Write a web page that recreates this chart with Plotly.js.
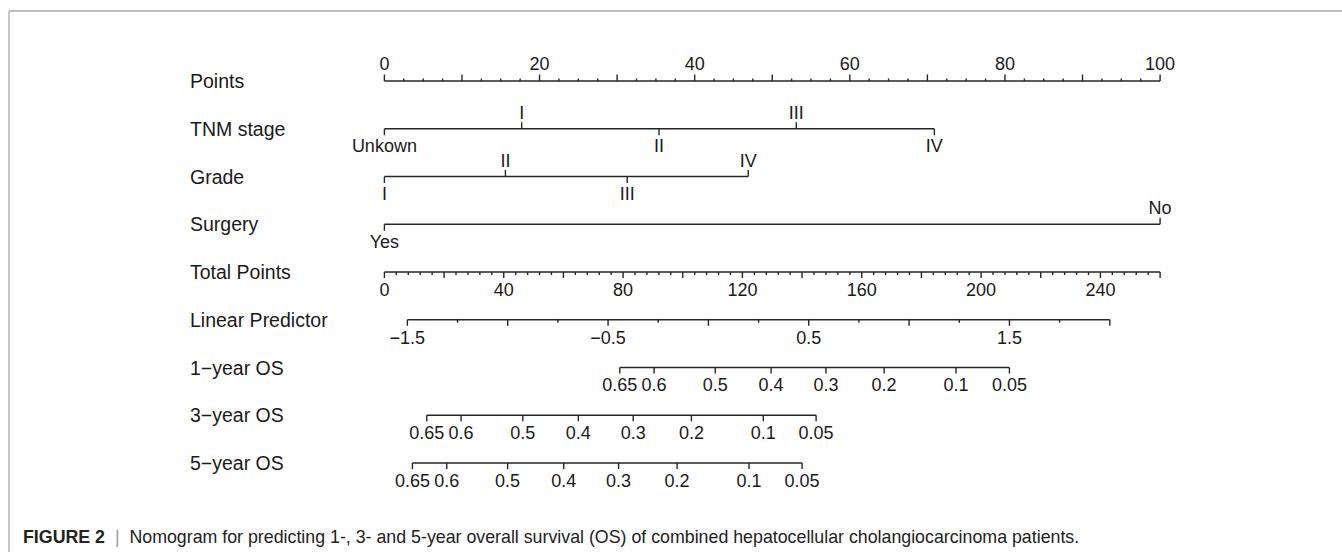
<!DOCTYPE html>
<html>
<head>
<meta charset="utf-8">
<script src="https://cdn.plot.ly/plotly-3.0.1.min.js"></script>
<style>
html,body{margin:0;padding:0;background:#fff;}
#chart{width:1342px;height:552px;}
</style>
</head>
<body>
<div id="chart"></div>
<script>
// ---------------- DATA ----------------
const rowNames = ["Points","TNM stage","Grade","Surgery","Total Points","Linear Predictor","1\u2212year OS","3\u2212year OS","5\u2212year OS"];

// Points scale
const pointsLabels = [0,20,40,60,80,100];
const pointsMajorStep = 10;
const pointsMinorStep = 2.5;

// Predictors (level names, points, label side: 1 = above, -1 = below)
const tnmLevels = ["Unkown","I","II","III","IV"];
const tnmPoints = [0, 17.7, 35.4, 53.1, 70.9];
const tnmSide   = [-1, 1, -1, 1, -1];

const gradeLevels = ["I","II","III","IV"];
const gradePoints = [0, 15.6, 31.3, 46.9];
const gradeSide   = [-1, 1, -1, 1];

const surgeryLevels = ["Yes","No"];
const surgeryPoints = [0, 100];
const surgerySide   = [-1, 1];

// Total points scale
const totalMax = 260;
const totalLabels = [0,40,80,120,160,200,240];
const totalMajorStep = 20;
const totalMinorStep = 4;

// Linear predictor scale (total points = lpIntercept + lpSlope * LP)
const lpMin = -1.5, lpMax = 2.0;
const lpLabels = [-1.5,-0.5,0.5,1.5];
const lpMajorStep = 0.5, lpMinorStep = 0.25;
const lpIntercept = 108.6, lpSlope = 67.27;

// Survival scales: tick labels and the total points where they fall
const osLabels = ["0.65","0.6","0.5","0.4","0.3","0.2","0.1","0.05"];
const os1Total = [78.9, 90.4, 110.9, 129.6, 148.0, 167.5, 191.6, 209.5];
const os3Total = [14.2, 25.7, 46.4, 65.0, 83.4, 102.9, 127.0, 144.7];
const os5Total = [9.4, 20.9, 41.3, 60.1, 78.5, 98.1, 122.2, 140.0];

// ---------------- LAYOUT GEOMETRY ----------------
const W = 1342, H = 552;
const x0px = 384.4, pxPerPoint = 7.757;     // points 0 -> pixel, px per point
const row0px = 81, rowPx = 47.75;            // first row pixel, row spacing
const PX = 1 / rowPx;                         // one pixel in y units
const ink = "#262626";
const txt = "#1a1a1a";
const fontFam = "Liberation Sans, Arial, Helvetica, sans-serif";
const fs = 18;

function range(a, b, step){ const out=[]; for(let v=a; v<=b+1e-9; v+=step) out.push(+v.toFixed(6)); return out; }
const totToPts = t => t / totalMax * 100;
const lpToPts = v => totToPts(lpIntercept + lpSlope * v);

const traces = [];
function addLine(row, p1, p2){
  traces.push({type:"scatter", mode:"lines", x:[p1,p2], y:[row,row],
    line:{color:ink,width:1.6}, hoverinfo:"skip", showlegend:false});
}
function addTicks(row, ps, lenPx, dir){ // dir: -1 up, +1 down
  const x=[], y=[];
  ps.forEach(p=>{ x.push(p,p,null); y.push(row,row+dir*lenPx*PX,null); });
  traces.push({type:"scatter", mode:"lines", x, y,
    line:{color:ink,width:1.4}, hoverinfo:"skip", showlegend:false});
}
function addText(row, ps, labels, offPx){ // offPx negative = above
  traces.push({type:"scatter", mode:"text", x:ps, y:ps.map(()=>row+offPx*PX),
    text:labels, textposition:"middle center", cliponaxis:false,
    textfont:{family:fontFam,size:fs,color:txt}, hoverinfo:"skip", showlegend:false});
}

// Row 0: Points
addLine(0, 0, 100);
const ptsMajor = range(0,100,pointsMajorStep);
const ptsMinor = range(0,100,pointsMinorStep).filter(v=>!ptsMajor.some(m=>Math.abs(m-v)<1e-6));
addTicks(0, ptsMajor, 6.5, -1);
addTicks(0, ptsMinor, 2.5, -1);
addText(0, pointsLabels, pointsLabels.map(String), -15.5);

// Categorical rows
function catRow(row, levels, pts, side){
  addLine(row, Math.min(...pts), Math.max(...pts));
  pts.forEach((p,i)=>{
    addTicks(row, [p], 6.5, side[i] > 0 ? -1 : 1);
  });
  const up = pts.filter((p,i)=>side[i]>0), upL = levels.filter((l,i)=>side[i]>0);
  const dn = pts.filter((p,i)=>side[i]<0), dnL = levels.filter((l,i)=>side[i]<0);
  addText(row, up, upL, -14.5);
  addText(row, dn, dnL, 19);
}
catRow(1, tnmLevels, tnmPoints, tnmSide);
catRow(2, gradeLevels, gradePoints, gradeSide);
catRow(3, surgeryLevels, surgeryPoints, surgerySide);

// Row 4: Total Points
addLine(4, 0, totToPts(totalMax));
const totMajor = range(0,totalMax,totalMajorStep);
const totMinor = range(0,totalMax,totalMinorStep).filter(v=>!totMajor.some(m=>Math.abs(m-v)<1e-6));
addTicks(4, totMajor.map(totToPts), 6, 1);
addTicks(4, totMinor.map(totToPts), 3, 1);
addText(4, totalLabels.map(totToPts), totalLabels.map(String), 19.5);

// Row 5: Linear Predictor
addLine(5, lpToPts(lpMin), lpToPts(lpMax));
const lpMajor = range(lpMin,lpMax,lpMajorStep);
const lpMinor = range(lpMin,lpMax,lpMinorStep).filter(v=>!lpMajor.some(m=>Math.abs(m-v)<1e-6));
addTicks(5, lpMajor.map(lpToPts), 6, 1);
addTicks(5, lpMinor.map(lpToPts), 3, 1);
addText(5, lpLabels.map(lpToPts), lpLabels.map(v=>v<0?"\u2212"+Math.abs(v):String(v)), 20);

// Survival rows
function osRow(row, totals){
  const ps = totals.map(totToPts);
  addLine(row, Math.min(...ps), Math.max(...ps));
  addTicks(row, ps, 6, 1);
  addText(row, ps, osLabels, 19);
}
osRow(6, os1Total);
osRow(7, os3Total);
osRow(8, os5Total);

// Row labels
const annotations = rowNames.map((n,i)=>({
  xref:"paper", yref:"y", x:188/W, y:i, xanchor:"left", yanchor:"middle",
  text:n, showarrow:false, font:{family:fontFam,size:19.5,color:txt}
}));
annotations.push({
  xref:"paper", yref:"paper", x:21/W, y:1-537/H, xanchor:"left", yanchor:"middle",
  showarrow:false,
  text:"<b>FIGURE 2</b>  <span style='color:#9a9a9a'>|</span>  Nomogram for predicting 1-, 3- and 5-year overall survival (OS) of combined hepatocellular cholangiocarcinoma patients.",
  font:{family:fontFam,size:17.8,color:"#222"}
});

const layout = {
  width:W, height:H, margin:{l:0,r:0,t:0,b:0},
  paper_bgcolor:"#fff", plot_bgcolor:"#fff",
  showlegend:false,
  xaxis:{range:[-x0px/pxPerPoint,(W-x0px)/pxPerPoint], visible:false, fixedrange:true},
  yaxis:{range:[(H-row0px)/rowPx, -row0px/rowPx], visible:false, fixedrange:true},
  annotations,
  shapes:[
    {type:"line", xref:"paper", yref:"paper", x0:9/W, x1:1, y0:1-11/H, y1:1-11/H, line:{color:"#aaaaaa",width:1.3}},
    {type:"line", xref:"paper", yref:"paper", x0:9/W, x1:9/W, y0:0, y1:1-11/H, line:{color:"#aaaaaa",width:1.3}}
  ]
};

Plotly.newPlot("chart", traces, layout, {staticPlot:true, displayModeBar:false});
</script>
</body>
</html>
